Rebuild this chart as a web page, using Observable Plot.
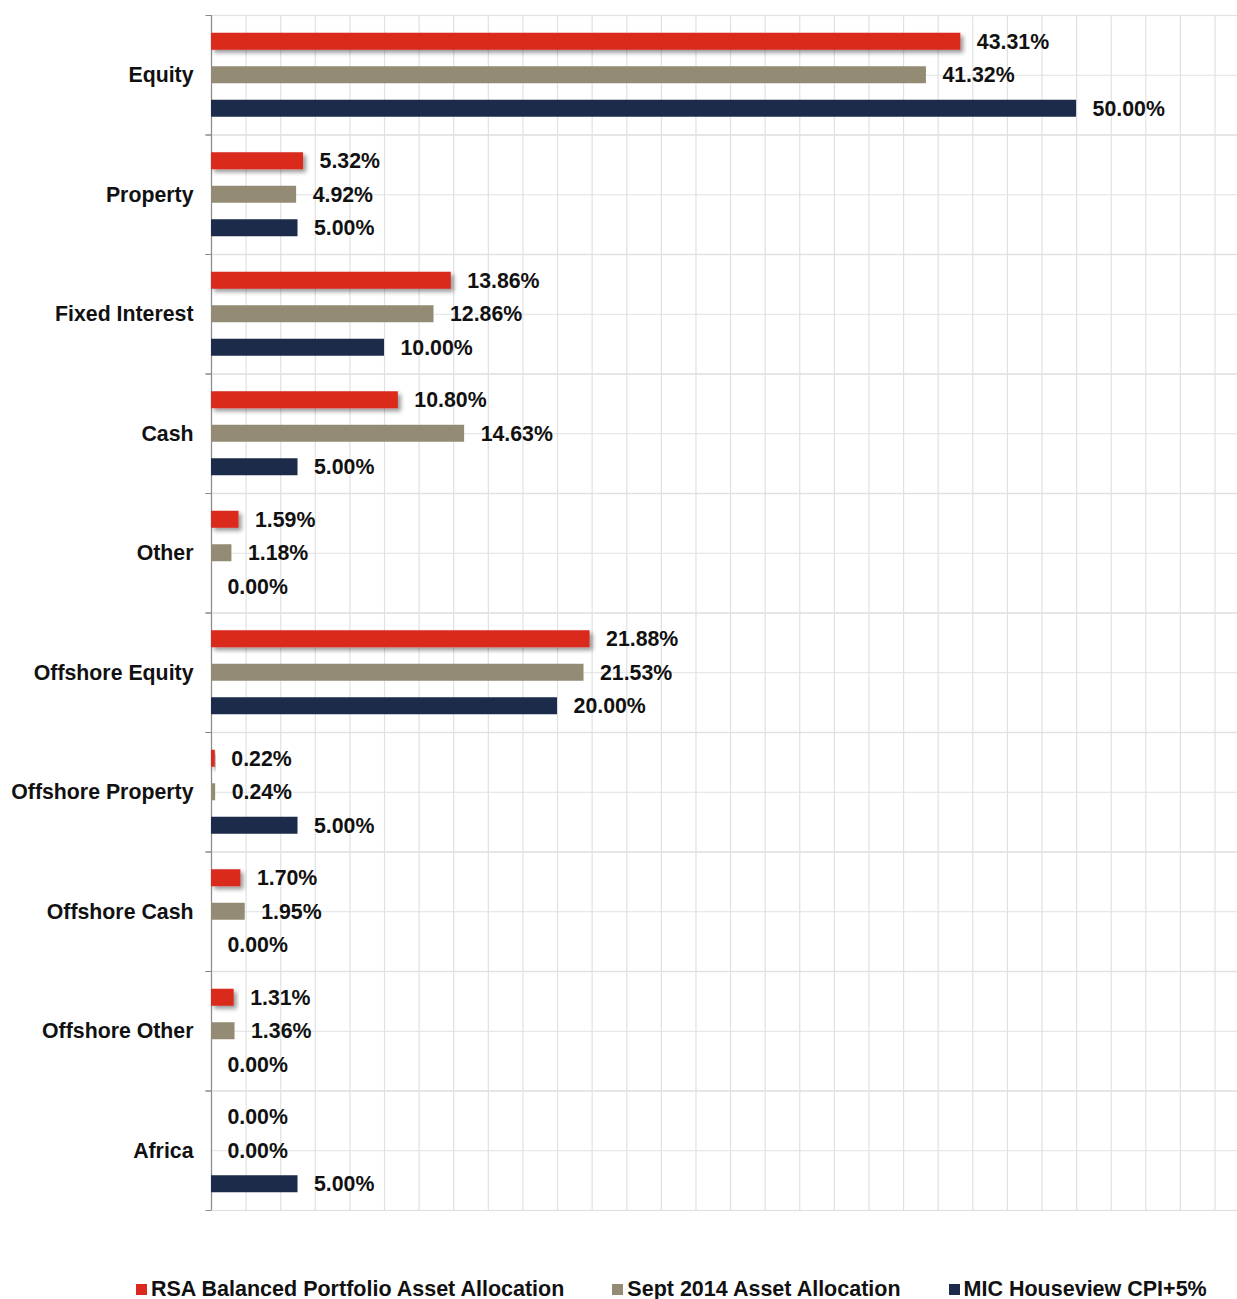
<!DOCTYPE html>
<html>
<head>
<meta charset="utf-8">
<script src="https://cdn.jsdelivr.net/npm/d3@7"></script>
<script src="https://cdn.jsdelivr.net/npm/@observablehq/plot@0.6"></script>
<style>
  body { margin: 0; background: #fff; font-family: "Liberation Sans", Arial, sans-serif; }
  #legend { display: flex; gap: 48px; padding-left: 136px; padding-top: 47px; font-size: 21.5px; font-weight: bold; line-height: 24px; color: #111; }
  #legend .item { display: flex; align-items: center; white-space: nowrap; }
  #legend .sw { width: 11px; height: 11px; margin-right: 4px; display: inline-block; }
</style>
</head>
<body>
<div id="chart"></div>
<div id="legend"></div>
<script>
const categories = ["Equity", "Property", "Fixed Interest", "Cash", "Other", "Offshore Equity", "Offshore Property", "Offshore Cash", "Offshore Other", "Africa"];
const series = ["RSA Balanced Portfolio Asset Allocation", "Sept 2014 Asset Allocation", "MIC Houseview CPI+5%"];
const seriesColors = ["#da2a1f", "#938b74", "#1b2b49"];
const rsaValues = [43.31, 5.32, 13.86, 10.80, 1.59, 21.88, 0.22, 1.70, 1.31, 0.00];
const septValues = [41.32, 4.92, 12.86, 14.63, 1.18, 21.53, 0.24, 1.95, 1.36, 0.00];
const micValues = [50.00, 5.00, 10.00, 5.00, 0.00, 20.00, 5.00, 0.00, 0.00, 5.00];
const gridTicks = d3.range(2, 60, 2);

const valueSets = [rsaValues, septValues, micValues];
const table = [];
categories.forEach((c, i) => {
  series.forEach((s, j) => table.push({category: c, series: s, value: valueSets[j][i]}));
});

const W = 1237, H = 1230, ML = 211;
const plot = Plot.plot({
  width: W,
  height: H,
  marginLeft: ML,
  marginRight: 0,
  marginTop: 15,
  marginBottom: 20,
  style: {fontFamily: "Liberation Sans, Arial, sans-serif", fontSize: "21.3px", fontWeight: "bold", color: "#111", background: "#fff"},
  facet: {data: table, y: "category"},
  fy: {domain: categories, padding: 0, round: false, axis: "left", label: null, tickSize: 0, tickPadding: 18},
  y: {domain: series, axis: null, round: false, paddingInner: 0.4925, paddingOuter: 0.53},
  x: {domain: [0, 59.3], axis: null},
  color: {domain: series, range: seriesColors},
  marks: [
    Plot.ruleX(gridTicks, {stroke: "#e1e1e1", strokeWidth: 1.2}),
    Plot.ruleY([series[1]], {stroke: "#e1e1e1", strokeWidth: 1.2}),
    Plot.frame({stroke: "#e1e1e1", strokeWidth: 1.2, insetRight: -3}),
    Plot.ruleX([0], {stroke: "#8a8a8a", strokeWidth: 1.2}),
    Plot.frame({stroke: "#8a8a8a", strokeWidth: 1.2, insetLeft: -6, insetRight: W - ML, strokeDasharray: "6 119.5 6 119.5"}),
    Plot.barX(table, {x: "value", y: "series", fill: "series"}),
    Plot.text(table, {x: "value", y: "series", text: d => d.value.toFixed(2) + "%", dx: 16, textAnchor: "start", fill: "#111"})
  ]
});

// drop shadow on the red bars
const ns = "http://www.w3.org/2000/svg";
const defs = document.createElementNS(ns, "defs");
defs.innerHTML = '<filter id="shadow" x="-10%" y="-50%" width="130%" height="250%"><feDropShadow dx="3" dy="3" stdDeviation="2.2" flood-color="#000" flood-opacity="0.4"/></filter>';
plot.insertBefore(defs, plot.firstChild);
plot.querySelectorAll('rect[fill="' + seriesColors[0] + '"]').forEach(r => r.setAttribute("filter", "url(#shadow)"));

document.getElementById("chart").appendChild(plot);

const legend = document.getElementById("legend");
series.forEach((s, i) => {
  const item = document.createElement("div");
  item.className = "item";
  const sw = document.createElement("span");
  sw.className = "sw";
  sw.style.background = seriesColors[i];
  item.appendChild(sw);
  item.appendChild(document.createTextNode(s));
  legend.appendChild(item);
});
</script>
</body>
</html>
